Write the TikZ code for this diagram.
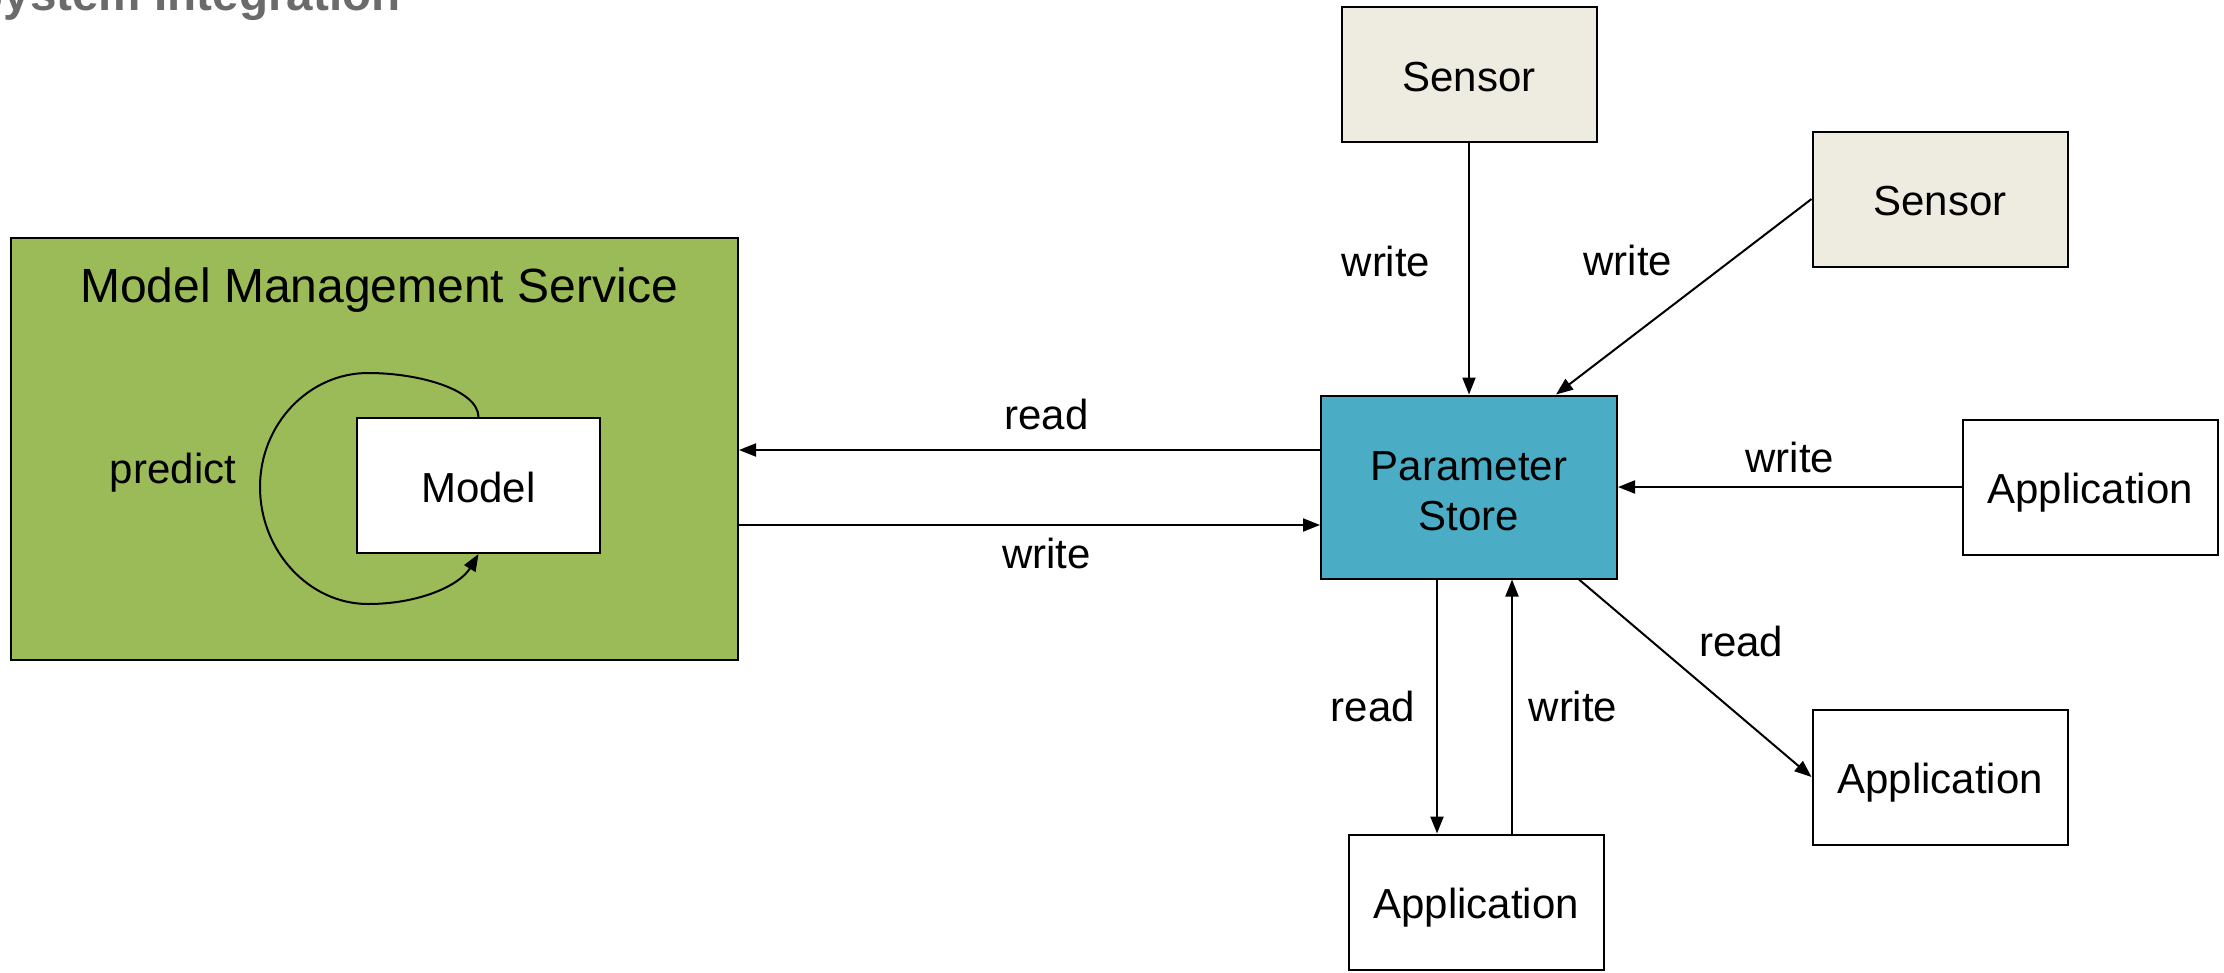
\documentclass[tikz,border=0pt]{standalone}
\usepackage{fontspec}
\setmainfont{Liberation Sans}
\usetikzlibrary{arrows.meta, positioning, calc}

\definecolor{mmsgreen}{HTML}{9BBB59}
\definecolor{storeblue}{HTML}{4BACC6}
\definecolor{sensortan}{HTML}{EEECE1}
\definecolor{titlegray}{HTML}{6B6B6B}

\tikzset{
  box/.style={rectangle, draw, fill=white, minimum width=255pt, minimum height=135pt, text height=33pt, text depth=0pt, font=\fontsize{42}{50}\selectfont},
  sensor/.style={box, fill=sensortan},
  lbl/.style={inner sep=0pt, font=\fontsize{42}{50}\selectfont},
  heading/.style={inner sep=0pt, text=titlegray, font=\fontsize{47.6}{57}\selectfont\bfseries}
}

\begin{document}
\begin{tikzpicture}[x=1pt, y=1pt, ->, >={Triangle[length=17pt, width=13pt]}, line width=2pt, node distance=100pt, on grid]
    \useasboundingbox (0,0) rectangle (2224,-972);

    % Heading (runs off the page edge)
    \node[heading, anchor=base west] (heading) at (-29,-10) {System Integration};

    % Define the nodes
    \node[box, fill=mmsgreen, minimum width=727pt, minimum height=422pt] (mms) at (374.5,-449) {};
    \node[lbl, anchor=north, font=\fontsize{48}{56}\selectfont] (mmstitle) at ([xshift=4.5pt, yshift=-30pt]mms.north) {Model Management Service};
    \node[box, minimum width=243pt] (model) [below right=36.5pt and 104pt of mms] {Model};
    \node[lbl] (predict) [left=305.5pt of model, yshift=12.5pt] {predict};

    \node[box, fill=storeblue, minimum width=296pt, minimum height=183pt, text height=86pt, align=center] (store) at (1469,-487) {Parameter\\Store};
    \node[sensor] (sensorA) [above=412.5pt of store] {Sensor};
    \node[sensor] (sensorB) [above right=288pt and 471pt of store] {Sensor};
    \node[box] (appR) [right=621pt of store] {Application};
    \node[box] (appLR) [below right=290pt and 471pt of store] {Application};
    \node[box] (appB) [below right=415pt and 7pt of store] {Application};

    % Draw the edges
    \draw[->] ([yshift=37pt]store.west) -- ([yshift=37pt]store.west -| mms.east) node[lbl, midway, xshift=17pt, yshift=36pt] (rd1) {read};
    \draw[->] ([yshift=-38pt]store.west -| mms.east) -- ([yshift=-38pt]store.west) node[lbl, midway, xshift=17pt, yshift=-28pt] (wr1) {write};
    \draw[->] (sensorA) -- (store) node[lbl, midway, xshift=-83pt, yshift=7pt] (wr2) {write};
    \draw[->] (sensorB.west) -- ([xshift=87pt]store.north) node[lbl, midway, xshift=-56pt, yshift=36pt] (wr3) {write};
    \draw[->] (appR.west) -- (store.east) node[lbl, midway, yshift=30pt] (wr4) {write};
    \draw[->] ([xshift=110pt]store.south) -- (appLR.west) node[lbl, midway, xshift=46pt, yshift=37pt] (rd2) {read};
    \draw[->] ([xshift=-32pt]store.south) -- ([xshift=-32pt]store.south |- appB.north) node[lbl, midway, xshift=-64pt] (rd3) {read};
    \draw[->] ([xshift=43pt]store.south |- appB.north) -- ([xshift=43pt]store.south) node[lbl, midway, xshift=61pt] (wr5) {write};

    % Self loop round the model
    \draw[->] (model.north) .. controls (478,-390) and (420,-373) .. (368,-373)
        .. controls (309,-373) and (260,-424) .. (260,-487)
        .. controls (260,-551) and (309,-604) .. (368,-604)
        .. controls (420,-604) and (460,-585) .. (model.south);
\end{tikzpicture}
\end{document}
